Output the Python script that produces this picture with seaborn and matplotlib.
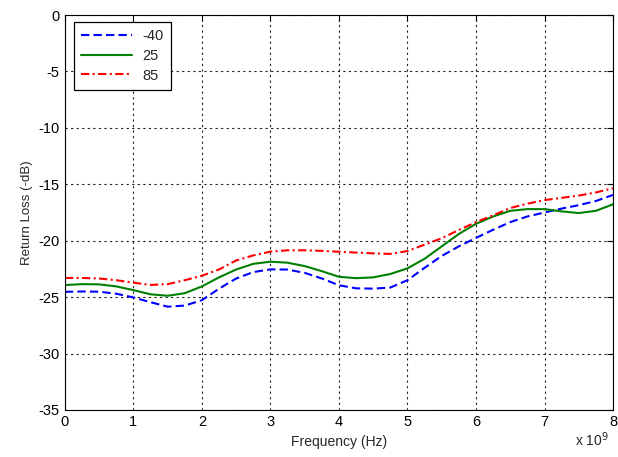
import matplotlib
matplotlib.use("Agg")
import matplotlib.pyplot as plt
import pandas as pd
import seaborn as sns

# frequency in units of 1e9 Hz
freq = [0, 0.25, 0.5, 0.75, 1, 1.25, 1.5, 1.75, 2, 2.25, 2.5, 2.75, 3, 3.25, 3.5, 3.75,
        4, 4.25, 4.5, 4.75, 5, 5.25, 5.5, 5.75, 6, 6.25, 6.5, 6.75, 7, 7.25, 7.5, 7.75, 8]

rl_m40 = [-24.53, -24.50, -24.52, -24.70, -25.03, -25.45, -25.85, -25.75, -25.27, -24.25,
          -23.35, -22.78, -22.54, -22.56, -22.85, -23.35, -23.95, -24.22, -24.25, -24.15,
          -23.50, -22.40, -21.35, -20.50, -19.75, -19.03, -18.35, -17.85, -17.50, -17.15,
          -16.85, -16.48, -15.94]
rl_25 = [-23.93, -23.85, -23.87, -24.05, -24.38, -24.75, -24.88, -24.65, -24.05, -23.25,
         -22.55, -22.05, -21.86, -21.95, -22.25, -22.70, -23.20, -23.32, -23.25, -22.95,
         -22.45, -21.60, -20.50, -19.40, -18.50, -17.85, -17.35, -17.20, -17.20, -17.40,
         -17.55, -17.35, -16.77]
rl_85 = [-23.30, -23.30, -23.35, -23.50, -23.72, -23.92, -23.85, -23.50, -23.10, -22.55,
         -21.75, -21.30, -20.97, -20.85, -20.85, -20.90, -20.98, -21.05, -21.12, -21.17,
         -20.92, -20.35, -19.78, -19.05, -18.35, -17.75, -17.10, -16.72, -16.40, -16.20,
         -16.00, -15.72, -15.35]

temps = ["-40", "25", "85"]
colors = {"-40": "#0000ff", "25": "#008000", "85": "#ff0000"}
dashes = {"-40": (4, 2), "25": "", "85": (4, 1.6, 1, 1.6)}

x_ticks = [0, 1, 2, 3, 4, 5, 6, 7, 8]
y_ticks = [0, -5, -10, -15, -20, -25, -30, -35]

df = pd.concat([
    pd.DataFrame({"freq": freq, "rl": vals, "temp": t})
    for t, vals in zip(temps, [rl_m40, rl_25, rl_85])
])

sns.set_style("white")
plt.rcParams["font.family"] = ["Liberation Sans", "DejaVu Sans"]
plt.rcParams["axes.unicode_minus"] = False

fig = plt.figure(figsize=(6.18, 4.57), dpi=100)
ax = fig.add_axes([0.105, 0.103, 0.887, 0.864])

sns.lineplot(data=df, x="freq", y="rl", hue="temp", style="temp",
             hue_order=temps, style_order=temps, palette=colors, dashes=dashes,
             linewidth=1.5, ax=ax)

ax.set_xlim(0, 8)
ax.set_ylim(-35, 0)
ax.set_xticks(x_ticks)
ax.set_yticks(y_ticks)
ax.tick_params(direction="in", length=4, width=0.8, top=True, right=True,
               labelsize=10.5, colors="black", pad=4)
ax.grid(True, color="#222222", linestyle=(0, (2, 3)), linewidth=0.8)
for s in ax.spines.values():
    s.set_color("black")
    s.set_linewidth(0.8)

ax.set_xlabel("Frequency (Hz)", fontsize=10, labelpad=4)
ax.set_ylabel("Return Loss (-dB)", fontsize=9.5, labelpad=4)
fig.text(0.985, 0.018, r"x 10$^{9}$", ha="right", va="bottom", fontsize=10)

leg = ax.legend(loc="upper left", bbox_to_anchor=(0.016, 0.982), borderaxespad=0,
                fontsize=10.5, frameon=True, fancybox=False, edgecolor="black",
                framealpha=1, handlelength=3.5, borderpad=0.5, labelspacing=0.38,
                handletextpad=0.7)
leg.get_frame().set_linewidth(0.9)

fig.savefig("out.png", dpi=100)
